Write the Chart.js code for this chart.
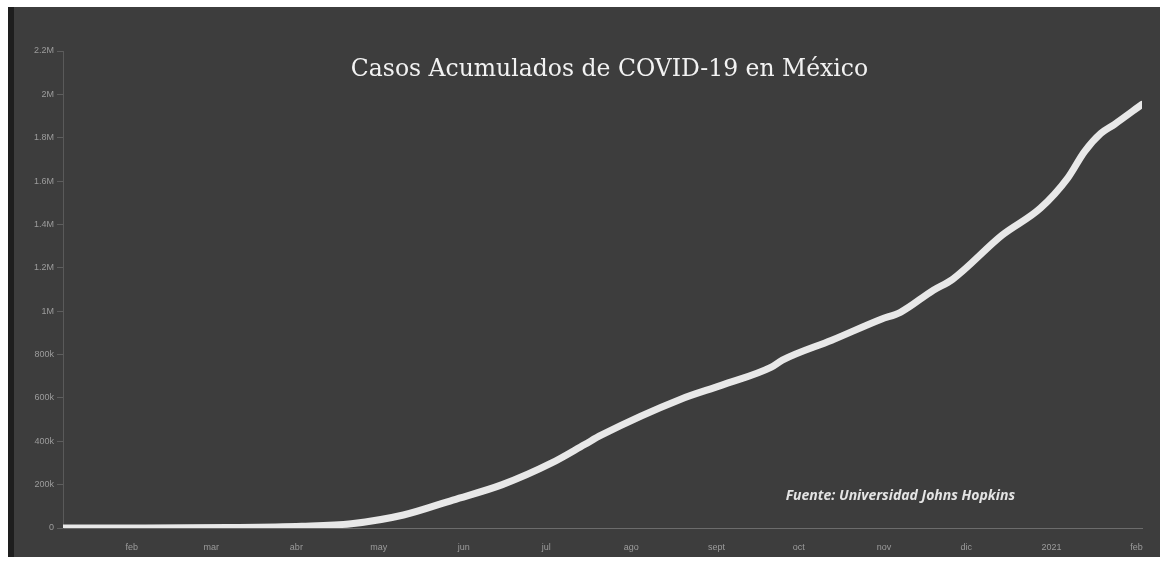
<!DOCTYPE html>
<html>
<head>
<meta charset="utf-8">
<script src="https://cdn.jsdelivr.net/npm/chart.js@4.4.1/dist/chart.umd.min.js"></script>
<style>
  html, body { margin: 0; padding: 0; background: #ffffff; width: 1164px; height: 566px; overflow: hidden; }
  #bg { position: absolute; left: 8px; top: 7px; width: 1146px; height: 550px; background: #3d3d3d; border-left: 6px solid #1e1e1e; }
  #wrap { position: absolute; left: 0; top: 0; width: 1164px; height: 566px; }
</style>
</head>
<body>
<div id="bg"></div>
<div id="wrap"><canvas id="c" width="1164" height="566"></canvas></div>
<script>
// Days since 22 Jan 2020 and accumulated cases
const days  = [0, 30, 60, 87, 105, 124, 142, 160, 178, 190, 196, 225, 240, 258, 262, 280, 298, 305, 317, 324, 342, 356, 366, 372, 378, 383, 393];
const cases = [0, 0, 2000, 8000, 20000, 60000, 129000, 200000, 300000, 385000, 428000, 594000, 659000, 742000, 774000, 866000, 963000, 995000, 1097000, 1147000, 1350000, 1475000, 1615000, 1735000, 1820000, 1862000, 1954000];

// x-axis month labels (placed mid-month) and their day positions
const tickDays   = [25, 54, 85, 115, 146, 176, 207, 238, 268, 299, 329, 360, 391];
const tickLabels = ["feb", "mar", "abr", "may", "jun", "jul", "ago", "sept", "oct", "nov", "dic", "2021", "feb"];

const titleText  = "Casos Acumulados de COVID-19 en México";
const sourceText = "Fuente: Universidad Johns Hopkins";

const points = days.map((d, i) => ({ x: d, y: cases[i] }));

function fmtY(v) {
  if (v === 0) return "0";
  if (v < 1000000) return (v / 1000) + "k";
  return (v / 1000000) + "M";
}

const overlayText = {
  id: "overlayText",
  afterDraw(chart) {
    const ctx = chart.ctx, a = chart.chartArea;
    ctx.save();
    ctx.fillStyle = "#f2f2f2";
    ctx.font = "23.5px 'DejaVu Serif'";
    ctx.textAlign = "center";
    ctx.textBaseline = "alphabetic";
    ctx.fillText(titleText, (a.left + a.right) / 2 + 7, a.top + 25);
    ctx.fillStyle = "#e4e4e4";
    ctx.font = "italic bold 14px 'Open Sans'";
    ctx.textAlign = "right";
    ctx.fillText(sourceText, a.right - 127, a.bottom - 28);
    ctx.restore();
  }
};

new Chart(document.getElementById("c"), {
  type: "line",
  data: {
    datasets: [{
      data: points,
      borderColor: "#e8e8e8",
      borderWidth: 7,
      borderCapStyle: "round",
      borderJoinStyle: "round",
      pointRadius: 0,
      fill: false,
      cubicInterpolationMode: "monotone"
    }]
  },
  options: {
    responsive: false,
    animation: false,
    layout: { padding: { left: 14, right: 22, top: 51, bottom: 10 } },
    plugins: { legend: { display: false }, tooltip: { enabled: false }, title: { display: false } },
    scales: {
      x: {
        type: "linear",
        min: 0,
        max: 393,
        afterBuildTicks(scale) { scale.ticks = tickDays.map(v => ({ value: v })); },
        afterFit(scale) { scale.height = 28; },
        ticks: {
          autoSkip: false,
          maxRotation: 0,
          color: "#9c9c9c",
          font: { family: "'Liberation Sans'", size: 9 },
          padding: 6,
          callback(v) { const i = tickDays.indexOf(v); return i >= 0 ? tickLabels[i] : ""; }
        },
        grid: { display: false, drawOnChartArea: false },
        border: { display: true, color: "#6c6c6c", width: 1 }
      },
      y: {
        min: 0,
        max: 2200000,
        afterFit(scale) { scale.width = 49; },
        ticks: {
          stepSize: 200000,
          color: "#9c9c9c",
          font: { family: "'Liberation Sans'", size: 9 },
          padding: 3,
          callback: v => fmtY(v)
        },
        grid: { drawOnChartArea: false, drawTicks: true, tickLength: 6, color: "#5e5e5e" },
        border: { display: true, color: "#5a5a5a", width: 1 }
      }
    }
  },
  plugins: [overlayText]
});
</script>
</body>
</html>
